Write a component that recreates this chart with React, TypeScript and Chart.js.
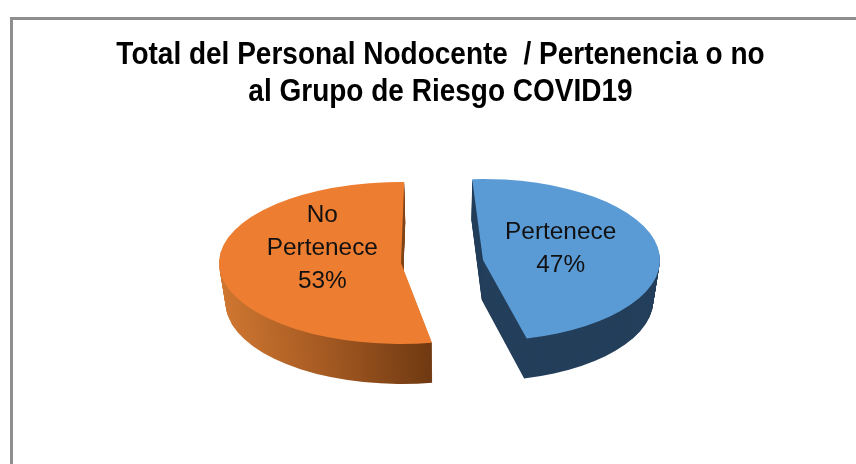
import React, { useEffect, useRef } from "react";
import { Chart, registerables } from "chart.js";

Chart.register(...registerables);

const categories = ["Pertenece", "No Pertenece"];
const labelLines = [["Pertenece"], ["No", "Pertenece"]];
const values = [47, 53];
const topColors = ["#5B9BD5", "#ED7D31"];
const titleLines = ["Total del Personal Nodocente  / Pertenencia o no", "al Grupo de Riesgo COVID19"];

// Where each exploded slice of the tilted pie sits on the page
const sliceCx = [483, 401];
const sliceCy = [260, 263];
const sliceRx = [177, 182];
const sliceRy = [81, 81];
const sliceTurn = [-3.5, 1];
const labelReach = 78;
const labelNudgeX = [0, -1];
const labelNudgeY = [-11, -15];
const pivotX = 441;
const depth = 40;
const perspective = 0.03;
const titleSqueeze = 0.875;
const titleCenter = 440.5;

const pie3d = {
  id: "pie3d",
  beforeDraw(chart: any) {
    const t = chart.titleBlock;
    if (t && !t.__wrapped) {
      const orig = t.draw.bind(t);
      t.draw = (...args: any[]) => {
        const c = chart.ctx;
        c.save();
        c.setTransform(titleSqueeze, 0, 0, 1, titleCenter - (titleSqueeze * chart.width) / 2, 0);
        orig(...args);
        c.restore();
      };
      t.__wrapped = true;
    }
  },
  beforeDatasetsDraw(chart: any) {
    const ctx = chart.ctx;
    const arcs = chart.getDatasetMeta(0).data;
    const place = (i: number, shift: number, sx: number) => {
      const arc = arcs[i];
      const R = arc.outerRadius;
      ctx.setTransform(1, 0, 0, 1, 0, 0);
      ctx.translate(pivotX + (sliceCx[i] - pivotX) * sx, sliceCy[i] + shift);
      ctx.scale((sliceRx[i] / R) * sx, sliceRy[i] / R);
      ctx.rotate((sliceTurn[i] * Math.PI) / 180);
      ctx.translate(-arc.x, -arc.y);
    };
    const R = arcs[1].outerRadius;
    const grad = ctx.createLinearGradient(arcs[1].x - R, 0, arcs[1].x + 0.17 * R, 0);
    grad.addColorStop(0, "#D07731");
    grad.addColorStop(0.5, "#A55A22");
    grad.addColorStop(1, "#713A12");
    const sideFills = ["#243F5B", grad];
    ctx.save();
    arcs.forEach((arc: any, i: number) => {
      const orig = arc.options;
      arc.options = { ...orig, backgroundColor: sideFills[i], borderWidth: 0 };
      for (let d = depth; d > 0; d--) {
        place(i, d, 1 - (perspective * d) / depth);
        arc.draw(ctx);
      }
      arc.options = orig;
      place(i, 0, 1);
      arc.draw(ctx);
    });
    ctx.restore();

    const total = values.reduce((a, b) => a + b, 0);
    ctx.save();
    ctx.fillStyle = "#111111";
    ctx.font = '24.4px "Liberation Sans"';
    ctx.textAlign = "center";
    ctx.textBaseline = "middle";
    arcs.forEach((arc: any, i: number) => {
      const mid = (arc.startAngle + arc.endAngle) / 2;
      const x = sliceCx[i] + Math.cos(mid) * labelReach + labelNudgeX[i];
      const y = sliceCy[i] + labelNudgeY[i];
      const lines = [...labelLines[i], `${Math.round((values[i] / total) * 100)}%`];
      lines.forEach((t, k) => {
        ctx.fillText(t, x, y + (k - (lines.length - 1) / 2) * 33);
      });
    });
    ctx.restore();
    return false;
  },
};

export default function App() {
  const ref = useRef<HTMLCanvasElement>(null);
  useEffect(() => {
    const chart = new Chart(ref.current!, {
      type: "pie",
      data: {
        labels: categories,
        datasets: [
          {
            data: values,
            backgroundColor: topColors,
            borderWidth: 0,
            radius: 150,
            clip: false,
          } as any,
        ],
      },
      options: {
        responsive: false,
        animation: false,
        layout: { padding: 0 },
        plugins: {
          legend: { display: false },
          tooltip: { enabled: false },
          title: {
            display: true,
            text: titleLines,
            color: "#000000",
            font: { family: '"Liberation Sans"', size: 32, weight: "bold", lineHeight: 1.15 },
            padding: { top: 36.5, bottom: 0 },
          },
        },
      },
      plugins: [pie3d as any],
    });
    return () => chart.destroy();
  }, []);
  return (
    <div style={{ position: "fixed", left: 0, top: 0, width: 856, height: 464, background: "#fff", overflow: "hidden" }}>
      <canvas ref={ref} width={856} height={464} style={{ position: "absolute", left: 0, top: 0 }} />
      <div style={{ position: "absolute", left: 10, top: 17, width: 860, height: 460, borderLeft: "3px solid #8E8E8E", borderTop: "3px solid #8E8E8E" }} />
    </div>
  );
}
